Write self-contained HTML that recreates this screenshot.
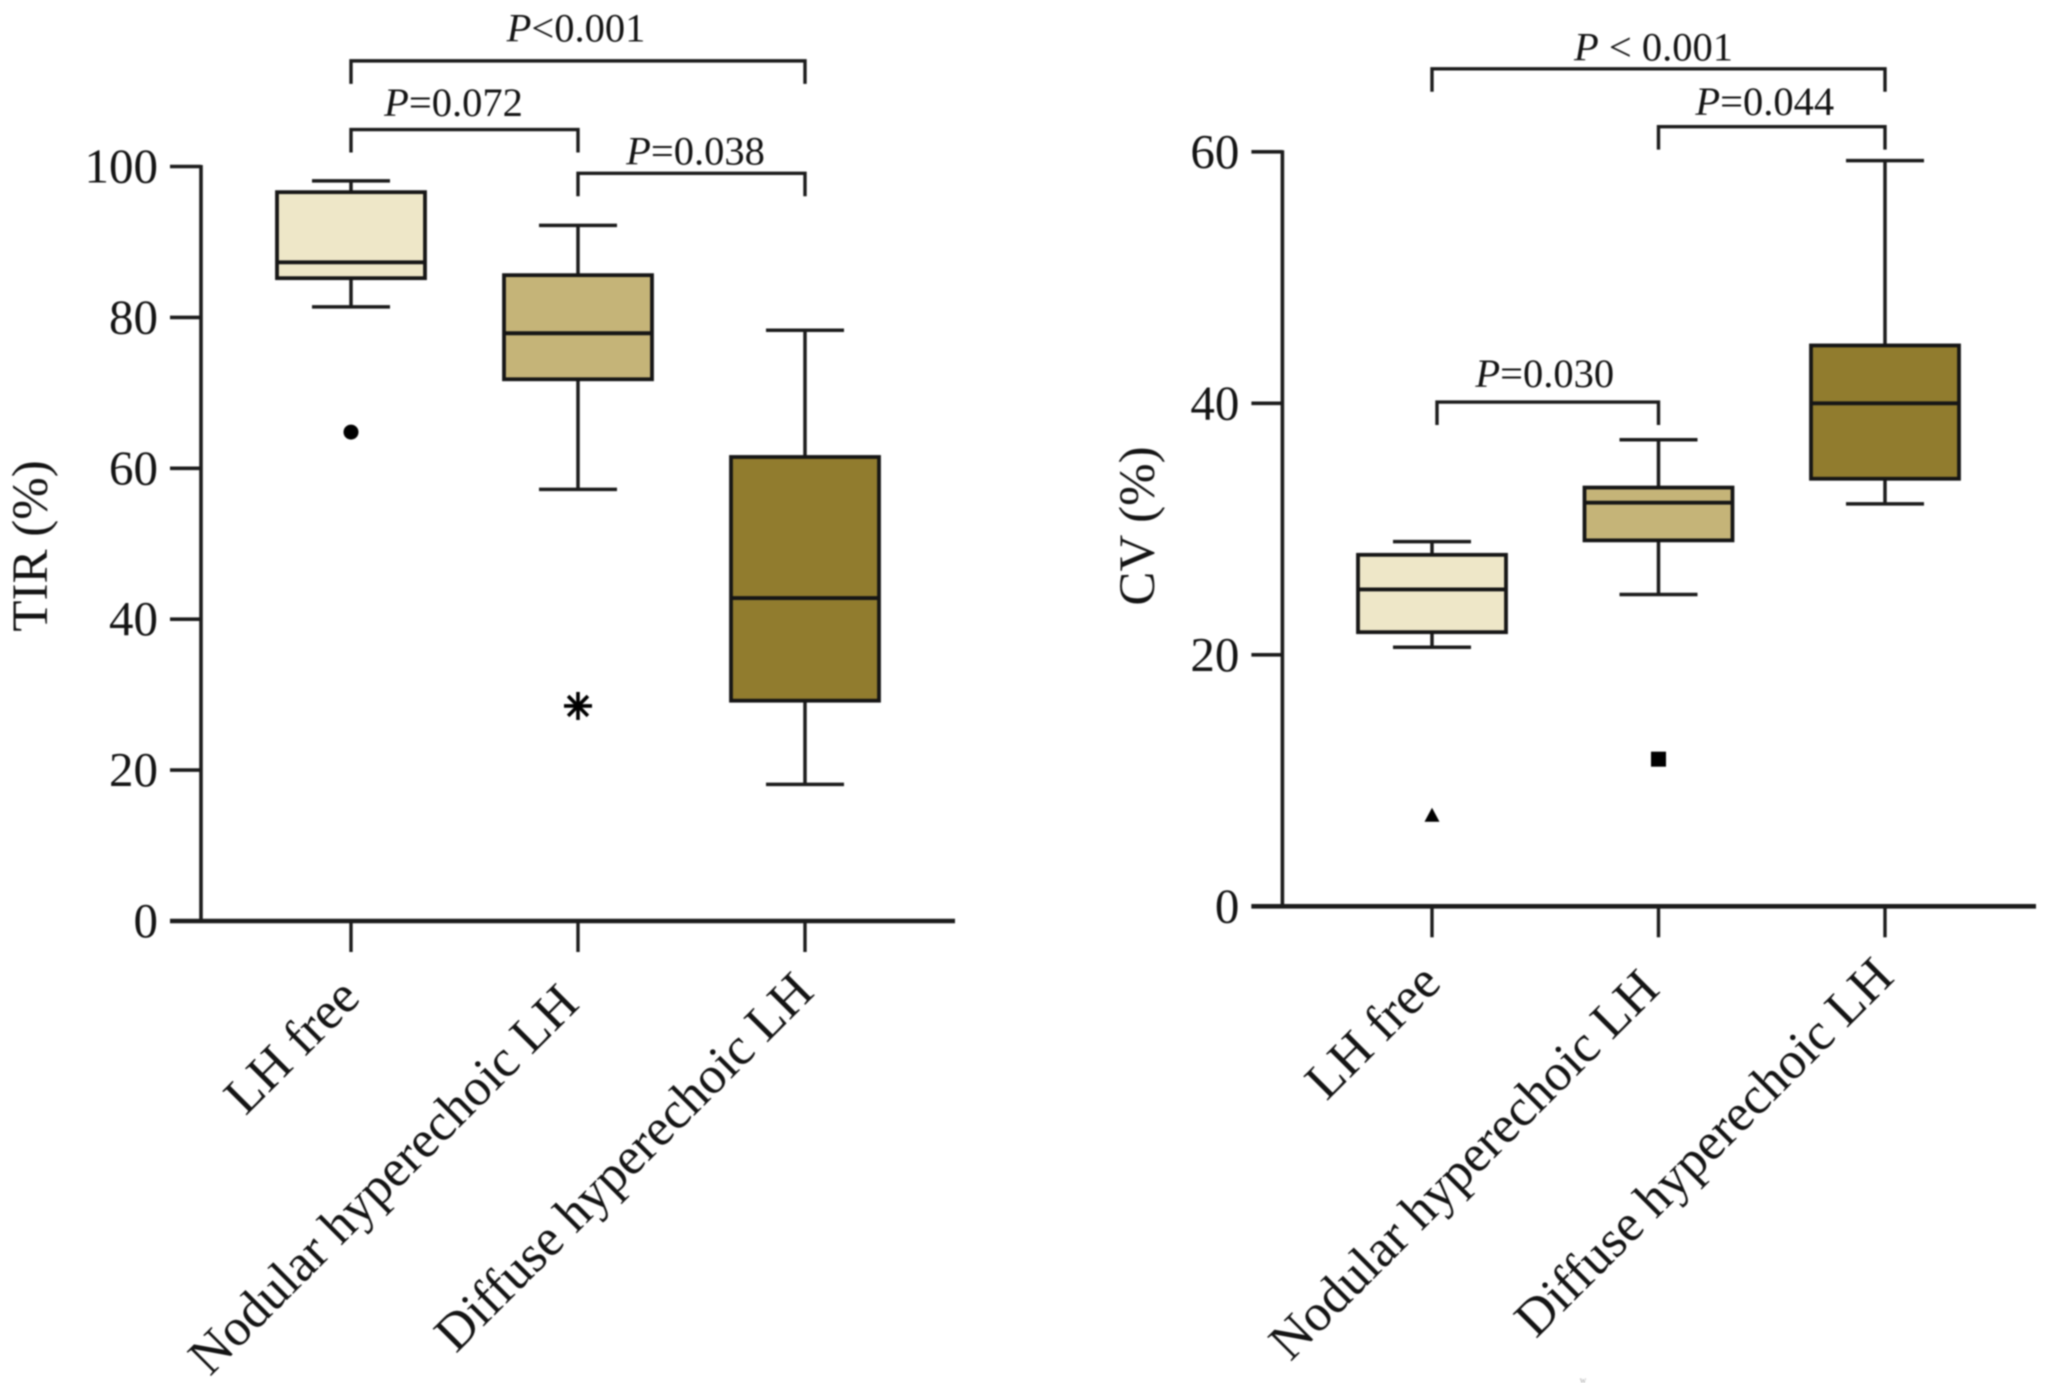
<!DOCTYPE html>
<html lang="en">
<head>
<meta charset="utf-8">
<title>TIR and CV by LH group</title>
<style>
html,body{margin:0;padding:0;background:#fff;width:2049px;height:1383px;overflow:hidden}
svg{display:block;filter:blur(0.7px)}
text{font-family:"Liberation Serif","Times New Roman",serif;fill:#141414}
</style>
</head>
<body>
<svg id="figure" xmlns="http://www.w3.org/2000/svg" width="2049" height="1383" viewBox="0 0 2049 1383">
  <rect width="2049" height="1383" fill="#fff"/>
  <text x="1583" y="1383" font-size="9" text-anchor="middle" style="fill:#aaa">w</text>
</svg>
<script>
const categories = ["LH free", "Nodular hyperechoic LH", "Diffuse hyperechoic LH"];
const boxFills = ["#EEE7C8", "#C5B478", "#917C2E"];

const tirTicks = [0, 20, 40, 60, 80, 100];
const tirWhiskerLow = [81.4, 57.2, 18.1];
const tirQ1 = [85.2, 71.8, 29.2];
const tirMedian = [87.3, 77.9, 42.8];
const tirQ3 = [96.6, 85.6, 61.5];
const tirWhiskerHigh = [98.1, 92.2, 78.3];
const tirOutliers = [64.8, 28.5, null];
const tirOutlierShapes = ["circle", "asterisk", null];
const tirPLabels = ["<0.001", "=0.072", "=0.038"];
const tirPFrom = [0, 0, 1];
const tirPTo = [2, 1, 2];
const tirPLevels = [114.0, 104.9, 99.1];

const cvTicks = [0, 20, 40, 60];
const cvWhiskerLow = [20.6, 24.8, 32.0];
const cvQ1 = [21.8, 29.1, 34.0];
const cvMedian = [25.2, 32.1, 40.0];
const cvQ3 = [27.95, 33.3, 44.6];
const cvWhiskerHigh = [29.0, 37.1, 59.3];
const cvOutliers = [7.2, 11.7, null];
const cvOutlierShapes = ["triangle", "square", null];
const cvPLabels = [" < 0.001", "=0.044", "=0.030"];
const cvPFrom = [0, 1, 0];
const cvPTo = [2, 2, 1];
const cvPLevels = [66.6, 62.0, 40.1];

const svg = document.getElementById("figure");
const NS = "http://www.w3.org/2000/svg";
const INK = "#1c1c1c";

function make(tag, attrs, parent) {
  const node = document.createElementNS(NS, tag);
  for (const k in attrs) node.setAttribute(k, attrs[k]);
  parent.appendChild(node);
  return node;
}

function drawPanel(cfg) {
  const g = make("g", {}, svg);
  
  

  const y = v => cfg.y0 - (v - cfg.vMin) * (cfg.y0 - cfg.yTop) / (cfg.vMax - cfg.vMin);
  const x = i => cfg.xStart + i * cfg.xStep;

  // y axis
  const yAxis = make("line", {x1: cfg.axisX, x2: cfg.axisX, y1: y(cfg.vMax) - 1.5, y2: cfg.y0, stroke: INK, "stroke-width": 3.6}, g);
  
  

  cfg.ticks.forEach(t => {
    const tick = make("line", {x1: cfg.axisX - 31, x2: cfg.axisX, y1: y(t), y2: y(t), stroke: INK, "stroke-width": 3.6}, g);
    
    
    const label = make("text", {x: cfg.axisX - 43, y: y(t) + 16, "text-anchor": "end", "font-size": 49}, g);
    label.textContent = t;
    
    
  });

  // x axis
  const xAxis = make("line", {x1: cfg.axisX - 31, x2: cfg.xEnd, y1: cfg.y0, y2: cfg.y0, stroke: INK, "stroke-width": 4.6}, g);
  
  

  // y title
  const title = make("text", {transform: "translate(" + cfg.titleX + "," + cfg.titleY + ") rotate(-90)", "text-anchor": "middle", "font-size": 51}, g);
  title.textContent = cfg.title;
  
  

  categories.forEach((cat, i) => {
    const cx = x(i);
    const tick = make("line", {x1: cx, x2: cx, y1: cfg.y0, y2: cfg.y0 + 31, stroke: INK, "stroke-width": 3.4}, g);
    
    

    const lab = make("text", {transform: "translate(" + (cx + cfg.labelDx[i]) + "," + (cfg.y0 + cfg.labelDy[i]) + ") rotate(-45)", "text-anchor": "end", "font-size": 52.5}, g);
    lab.textContent = cat;
    
    

    const whisker = make("line", {x1: cx, x2: cx, y1: y(cfg.high[i]), y2: y(cfg.low[i]), stroke: INK, "stroke-width": 3.5}, g);
    
    

    const capHigh = make("line", {x1: cx - 39, x2: cx + 39, y1: y(cfg.high[i]), y2: y(cfg.high[i]), stroke: INK, "stroke-width": 3.5}, g);
    
    

    const capLow = make("line", {x1: cx - 39, x2: cx + 39, y1: y(cfg.low[i]), y2: y(cfg.low[i]), stroke: INK, "stroke-width": 3.5}, g);
    
    

    const box = make("rect", {x: cx - 74, width: 148, y: y(cfg.q3[i]), height: y(cfg.q1[i]) - y(cfg.q3[i]), fill: boxFills[i], stroke: "#161616", "stroke-width": 3.8}, g);
    
    

    const median = make("line", {x1: cx - 74, x2: cx + 74, y1: y(cfg.median[i]), y2: y(cfg.median[i]), stroke: "#161616", "stroke-width": 3.9}, g);
    
    

    const val = cfg.outliers[i];
    const shape = cfg.shapes[i];
    if (val !== null) {
      const oy = y(val);
      const mark = make("g", {}, g);
      
      
      if (shape === "circle") {
        make("circle", {cx: cx, cy: oy, r: 7.5, fill: "#000"}, mark);
      } else if (shape === "square") {
        make("rect", {x: cx - 7.5, y: oy - 7.5, width: 15, height: 15, fill: "#000"}, mark);
      } else if (shape === "triangle") {
        make("path", {d: "M" + cx + " " + (oy - 8) + "L" + (cx + 7.5) + " " + (oy + 6) + "L" + (cx - 7.5) + " " + (oy + 6) + "Z", fill: "#000"}, mark);
      } else if (shape === "asterisk") {
        [0, 45, 90, 135].forEach(a => {
          const r = a * Math.PI / 180;
          make("line", {x1: cx - 14 * Math.cos(r), y1: oy - 14 * Math.sin(r), x2: cx + 14 * Math.cos(r), y2: oy + 14 * Math.sin(r), stroke: "#000", "stroke-width": 3.6}, mark);
        });
      }
    }
  });

  // significance brackets
  cfg.pLabels.forEach((lbl, i) => {
    const x1 = x(cfg.pFrom[i]) + cfg.bracketStartDx[i];
    const x2 = x(cfg.pTo[i]);
    const by = y(cfg.pLevels[i]);
    const bracket = make("path", {d: "M" + x1 + " " + (by + 23) + "V" + by + "H" + x2 + "V" + (by + 23), fill: "none", stroke: INK, "stroke-width": 3.4}, g);
    
    

    const t = make("text", {x: (x1 + x2) / 2 + cfg.pDx[i], y: by - cfg.pDy[i], "text-anchor": "middle", "font-size": 40.5}, g);
    
    
    const p = make("tspan", {"font-style": "italic"}, t);
    p.textContent = "P";
    const rest = make("tspan", {}, t);
    rest.textContent = lbl;
  });
}

drawPanel({
  name: "tir-panel", title: "TIR (%)", titleX: 47, titleY: 546,
  axisX: 201, y0: 921, yTop: 166.5, vMin: 0, vMax: 100, xStart: 351, xStep: 227, xEnd: 955,
  ticks: tirTicks, low: tirWhiskerLow, q1: tirQ1, median: tirMedian, q3: tirQ3, high: tirWhiskerHigh,
  outliers: tirOutliers, shapes: tirOutlierShapes,
  pLabels: tirPLabels, pFrom: tirPFrom, pTo: tirPTo, pLevels: tirPLevels,
  bracketStartDx: [0, 0, 0], pDx: [-2, -11, 4], pDy: [19.6, 13.5, 9],
  labelDx: [11, 3, 11], labelDy: [79, 85, 73]
});

drawPanel({
  name: "cv-panel", title: "CV (%)", titleX: 1154, titleY: 526,
  axisX: 1282.4, y0: 906.3, yTop: 151.8, vMin: 0, vMax: 60, xStart: 1432, xStep: 226.5, xEnd: 2036,
  ticks: cvTicks, low: cvWhiskerLow, q1: cvQ1, median: cvMedian, q3: cvQ3, high: cvWhiskerHigh,
  outliers: cvOutliers, shapes: cvOutlierShapes,
  pLabels: cvPLabels, pFrom: cvPFrom, pTo: cvPTo, pLevels: cvPLevels,
  bracketStartDx: [0, 0, 5], pDx: [-5, -7, -3], pDy: [8.5, 11.5, 15],
  labelDx: [11, 3, 11], labelDy: [79, 85, 73]
});
</script>
</body>
</html>
